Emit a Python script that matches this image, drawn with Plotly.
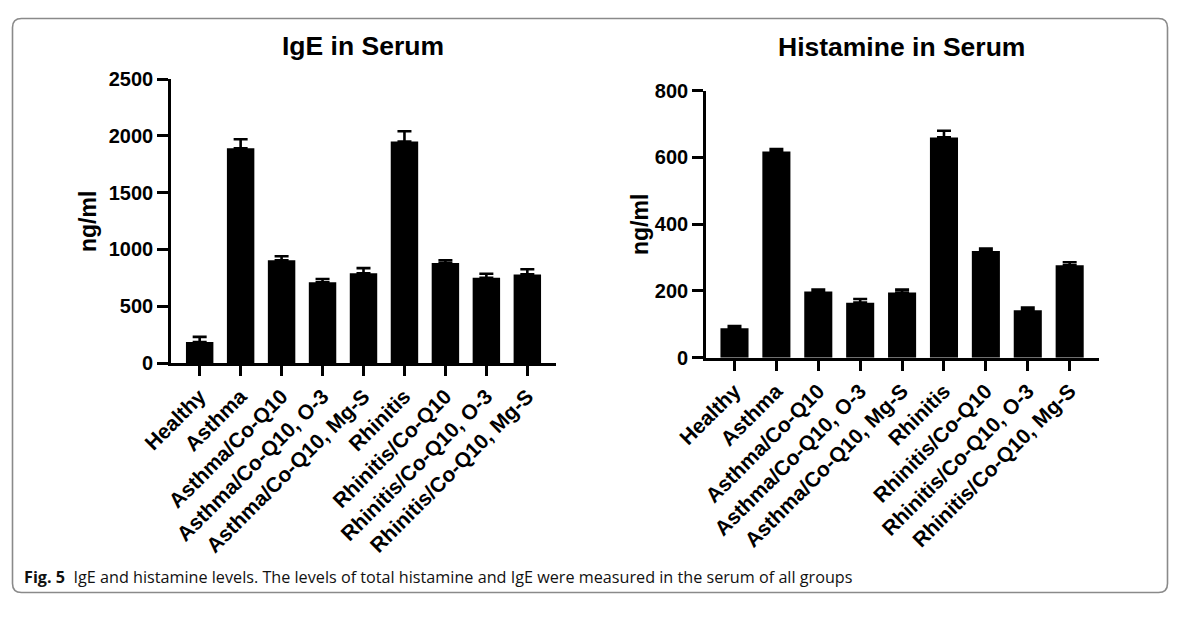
import plotly.graph_objects as go

categories = ["Healthy", "Asthma", "Asthma/Co-Q10", "Asthma/Co-Q10, O-3",
              "Asthma/Co-Q10, Mg-S", "Rhinitis", "Rhinitis/Co-Q10",
              "Rhinitis/Co-Q10, O-3", "Rhinitis/Co-Q10, Mg-S"]
ige_mean = [185, 1890, 905, 710, 790, 1950, 880, 750, 780]
ige_err = [45, 80, 35, 30, 45, 90, 25, 35, 45]
hist_mean = [88, 618, 198, 165, 195, 660, 320, 142, 277]
hist_err = [7, 7, 6, 11, 9, 20, 7, 8, 9]
ige_ticks = [0, 500, 1000, 1500, 2000, 2500]
hist_ticks = [0, 200, 400, 600, 800]

FONT = "Liberation Sans, Arial, sans-serif"
W, H = 1200, 624

fig = go.Figure()

def bar(y, err, xa, ya):
    return go.Bar(
        x=categories, y=y, xaxis=xa, yaxis=ya, width=0.67,
        marker=dict(color="black", line=dict(width=0)),
        error_y=dict(type="data", symmetric=False, array=err,
                     arrayminus=[0] * len(err), color="black",
                     thickness=2.6, width=7),
        showlegend=False)

fig.add_trace(bar(ige_mean, ige_err, "x", "y"))
fig.add_trace(bar(hist_mean, hist_err, "x2", "y2"))

xcommon = dict(type="category", showline=True, linecolor="black", linewidth=2.7,
               ticks="outside", ticklen=10, tickwidth=2.7, tickcolor="black",
               tickangle=-45, showgrid=False, zeroline=False, automargin=False,
               tickfont=dict(family=FONT, size=21, color="black", weight="bold"))
ycommon = dict(showline=True, linecolor="black", linewidth=2.7,
               ticks="outside", ticklen=11, tickwidth=2.7, tickcolor="black",
               showgrid=False, zeroline=False, automargin=False,
               tickfont=dict(family=FONT, size=20, color="black", weight="bold"))

fig.update_layout(
    width=W, height=H,
    margin=dict(l=0, r=0, t=0, b=0, autoexpand=False),
    paper_bgcolor="white", plot_bgcolor="white",
    bargap=0.3,
    xaxis=dict(domain=[171 / W, 556 / W], range=[-0.7, 8.7], anchor="y", **xcommon),
    yaxis=dict(domain=[1 - 363 / H, 1 - 79 / H], range=[0, 2500], anchor="x",
               tickvals=ige_ticks, **ycommon),
    xaxis2=dict(domain=[706 / W, 1099 / W], range=[-0.68, 8.7], anchor="y2", **xcommon),
    yaxis2=dict(domain=[1 - 357.7 / H, 1 - 90.7 / H], range=[0, 800], anchor="x2",
                tickvals=hist_ticks, **ycommon),
)

annots = [
    dict(text="<b>IgE in Serum</b>", x=363 / W, y=1 - 46 / H, size=26.5),
    dict(text="<b>Histamine in Serum</b>", x=901 / W, y=1 - 47 / H, size=26.5),
]
for a in annots:
    fig.add_annotation(text=a["text"], x=a["x"], y=a["y"], xref="paper", yref="paper",
                       xanchor="center", yanchor="middle", showarrow=False,
                       font=dict(family=FONT, size=a["size"], color="black"))

for xc, yc in [(88, 222), (640, 225)]:
    fig.add_annotation(text="<b>ng/ml</b>", x=xc / W, y=1 - yc / H, xref="paper", yref="paper",
                       xanchor="center", yanchor="middle", showarrow=False, textangle=-90,
                       font=dict(family=FONT, size=23, color="black"))

fig.add_annotation(
    text="<b>Fig. 5</b>  IgE and histamine levels. The levels of total histamine and IgE were measured in the serum of all groups",
    x=22 / W, y=1 - 577 / H, xref="paper", yref="paper", xanchor="left", yanchor="middle",
    showarrow=False, font=dict(family="Open Sans, sans-serif", size=16.2, color="#111"))

# rounded frame
x0, x1, y0, y1, r = 12.5, 1167.5, 18.5, 592.5, 9
def px(x): return x / W
def py(y): return 1 - y / H
path = (f"M {px(x0 + r)},{py(y0)} L {px(x1 - r)},{py(y0)} Q {px(x1)},{py(y0)} {px(x1)},{py(y0 + r)} "
        f"L {px(x1)},{py(y1 - r)} Q {px(x1)},{py(y1)} {px(x1 - r)},{py(y1)} "
        f"L {px(x0 + r)},{py(y1)} Q {px(x0)},{py(y1)} {px(x0)},{py(y1 - r)} "
        f"L {px(x0)},{py(y0 + r)} Q {px(x0)},{py(y0)} {px(x0 + r)},{py(y0)} Z")
fig.add_shape(type="path", path=path, xref="paper", yref="paper",
              line=dict(color="#8a8a8a", width=1.6), fillcolor="rgba(0,0,0,0)", layer="below")

fig.write_html("out.html")
